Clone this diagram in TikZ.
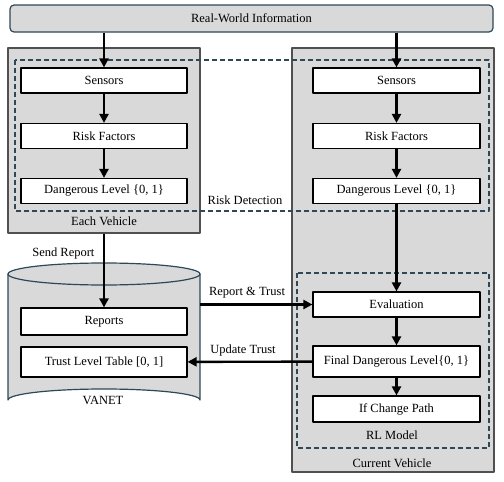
\documentclass[tikz,border=0pt]{standalone}
\usepackage{fontspec}
\setmainfont{Liberation Serif}
\newfontfamily\diagfont{Liberation Serif}
\usetikzlibrary{arrows.meta}
\definecolor{boxgray}{HTML}{D9D9D9}
\definecolor{slate}{HTML}{2F4858}
\definecolor{edgegray}{HTML}{505050}
\begin{document}
\begin{tikzpicture}[x=1pt,y=-1pt,font=\diagfont\fontsize{12.5}{15}\selectfont,line join=round,>={Triangle[length=9pt,width=9pt]},
	block/.style={draw=black,fill=white,line width=1.2pt,minimum width=166pt,minimum height=25pt,inner sep=0pt},
	vehicle/.style={draw=edgegray,fill=boxgray,line width=1.4pt,inner sep=0pt},
	flow/.style={->,line width=2.4pt,black},
	group/.style={draw=slate,line width=1.2pt,dash pattern=on 5pt off 3pt}]
	\useasboundingbox (0,0) rectangle (504,482);
	% vehicles
	\node[vehicle,minimum width=192pt,minimum height=185pt] (each) at (104,140.5) {};
	\node[vehicle,minimum width=202pt,minimum height=424pt] (cur) at (393,260) {};
	% VANET cylinder
	\draw[fill=boxgray,draw=slate,line width=1.2pt] (8,274)--(8,400) arc (180:360:96 and 11)--(200,274);
	\draw[fill=boxgray,draw=slate,line width=1.2pt] (104,274) ellipse (96 and 11);
	\node[draw=slate,fill=boxgray,line width=1.2pt,rounded corners=4pt,minimum width=483pt,minimum height=27pt] (real) at (251.5,18.5) {Real-World Information};
	% dashed groups
	\draw[group] (15,60) rectangle (489,211);
	\draw[group] (297,273) rectangle (489,448);
	\node[block] (sensL) at (104,80.5) {Sensors};
	\node[block] (riskL) at (104,136) {Risk Factors};
	\node[block] (dangL) at (104,191) {Dangerous Level \{0, 1\}};
	\node[block,minimum width=167pt] (sensR) at (396.5,80.5) {Sensors};
	\node[block,minimum width=167pt] (riskR) at (396.5,136) {Risk Factors};
	\node[block,minimum width=167pt] (dangR) at (396.5,191) {Dangerous Level \{0, 1\}};
	\node[block,minimum height=27pt] (rep) at (104,321.5) {Reports};
	\node[block,minimum height=30pt] (trust) at (104,362) {Trust Level Table [0, 1]};
	\node[block,minimum width=167pt] (eval) at (396.5,304.5) {Evaluation};
	\node[block,minimum width=167pt,minimum height=31pt] (final) at (396.5,361.5) {Final Dangerous Level\{0, 1\}};
	\node[block,minimum width=167pt,minimum height=26pt] (path) at (396.5,409) {If Change Path};
	\coordinate (vanetR) at (200,304.5);
	% labels
	\node (eachlbl) at (104,221) {Each Vehicle};
	\node (risklbl) at (245,200) {Risk Detection};
	\node[anchor=east] (sendlbl) at (98,253) {Send Report};
	\node (rtlbl) at (247,293) {Report \& Trust};
	\node (utlbl) at (243,350) {Update Trust};
	\node (vanetlbl) at (103,400) {VANET};
	\node (rllbl) at (392,435) {RL Model};
	\node (curlbl) at (392,463) {Current Vehicle};
	% arrows
	\draw[flow] (real.south -| sensL) -- (sensL);
	\draw[flow] (real.south -| sensR) -- (sensR);
	\draw[flow] (sensL) -- (riskL);
	\draw[flow] (riskL) -- (dangL);
	\draw[flow] (sensR) -- (riskR);
	\draw[flow] (riskR) -- (dangR);
	\draw[flow] (each.south) -- (rep);
	\draw[flow] (dangR) -- (eval);
	\draw[flow] (eval) -- (final);
	\draw[flow] (final) -- (path);
	\draw[flow] (vanetR) -- (eval);
	\draw[flow] (final) -- (trust);
\end{tikzpicture}
\end{document}
